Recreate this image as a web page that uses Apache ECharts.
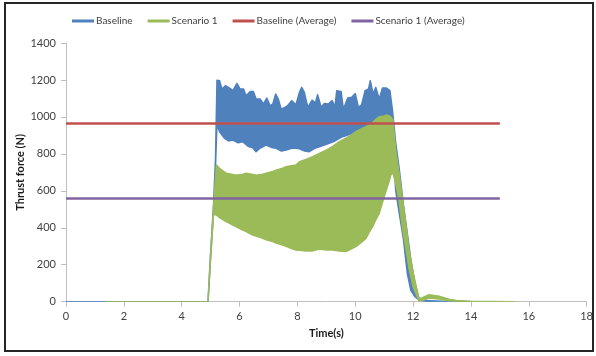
<!DOCTYPE html>
<html>
<head>
<meta charset="utf-8">
<script src="https://cdn.jsdelivr.net/npm/echarts@6/dist/echarts.min.js"></script>
<style>html,body{margin:0;padding:0;background:#fff;}#c{width:596px;height:356px;}</style>
</head>
<body>
<div id="c"></div>
<script>
// ---- data ----
const xTicks = [0, 2, 4, 6, 8, 10, 12, 14, 16, 18];
const yTicks = [0, 200, 400, 600, 800, 1000, 1200, 1400];

// Baseline: upper envelope of the oscillating thrust (time s, force N)
const baseUpT = [0, 4.91, 5.0, 5.1, 5.17, 5.22, 5.31, 5.39, 5.51, 5.66, 5.77, 5.91, 6.02, 6.14, 6.22, 6.37, 6.48, 6.57, 6.71, 6.83, 6.94, 7.06, 7.15, 7.25, 7.34, 7.44, 7.58, 7.69, 7.8, 7.95, 8.07, 8.15, 8.24, 8.36, 8.51, 8.62, 8.7, 8.82, 8.93, 9.07, 9.2, 9.3, 9.36, 9.51, 9.59, 9.74, 9.88, 10.0, 10.11, 10.22, 10.34, 10.46, 10.52, 10.62, 10.71, 10.83, 10.94, 11.08, 11.2, 11.29, 11.4, 11.52, 11.67, 11.8, 11.92, 12.05, 12.2, 12.4, 13.0, 13.93];
const baseUpV = [0, 0, 260, 520, 780, 1199, 1196, 1151, 1169, 1156, 1142, 1181, 1151, 1151, 1115, 1138, 1138, 1097, 1097, 1070, 1102, 1060, 1070, 1124, 1097, 1042, 1052, 1066, 1088, 1066, 1133, 1160, 1133, 1052, 1091, 1075, 1120, 1052, 1073, 1070, 1088, 1054, 1142, 1138, 1042, 1102, 1106, 1127, 1052, 1066, 1142, 1151, 1196, 1124, 1160, 1097, 1156, 1156, 1142, 1033, 860, 720, 520, 370, 230, 110, 20, 6, 3, 0];
// Baseline: lower envelope
const baseLoT = [0, 4.91, 5.0, 5.1, 5.17, 5.22, 5.31, 5.48, 5.62, 5.77, 5.95, 6.11, 6.3, 6.45, 6.57, 6.7, 6.92, 7.1, 7.26, 7.45, 7.61, 7.8, 7.95, 8.07, 8.25, 8.41, 8.6, 8.76, 9.1, 9.3, 9.56, 9.8, 10.0, 10.2, 10.4, 10.6, 10.8, 11.0, 11.2, 11.29, 11.4, 11.52, 11.67, 11.8, 11.92, 12.05, 12.2, 12.4, 13.0, 13.93];
const baseLoV = [0, 0, 240, 490, 740, 960, 920, 884, 870, 875, 860, 866, 840, 835, 812, 830, 848, 835, 830, 815, 821, 830, 830, 828, 815, 812, 830, 839, 857, 870, 893, 905, 920, 935, 950, 965, 975, 980, 960, 900, 600, 480, 334, 154, 63, 30, 9, 3, 0, 0];

// Scenario 1: upper envelope
const scenUpT = [1.4, 4.91, 5.0, 5.1, 5.2, 5.31, 5.54, 5.77, 5.89, 6.11, 6.23, 6.46, 6.57, 6.8, 6.92, 7.15, 7.26, 7.49, 7.61, 7.84, 7.95, 8.07, 8.3, 8.53, 8.76, 9.0, 9.22, 9.45, 9.68, 9.85, 10.02, 10.2, 10.37, 10.48, 10.6, 10.7, 10.83, 11.0, 11.11, 11.17, 11.23, 11.3, 11.4, 11.52, 11.63, 11.75, 11.86, 12.0, 12.2, 12.3, 12.55, 12.9, 13.24, 13.5, 14.0, 15.5];
const scenUpV = [0, 0, 260, 510, 740, 722, 695, 688, 685, 690, 695, 688, 685, 690, 695, 705, 712, 722, 730, 737, 740, 757, 770, 785, 803, 820, 840, 866, 885, 900, 920, 935, 947, 956, 970, 985, 1001, 1005, 1010, 1005, 1000, 985, 821, 690, 560, 420, 280, 160, 15, 20, 38, 30, 14, 6, 2, 0];
// Scenario 1: lower envelope
const scenLoT = [1.4, 4.91, 5.0, 5.1, 5.2, 5.31, 5.54, 5.77, 5.89, 6.11, 6.23, 6.46, 6.57, 6.8, 6.92, 7.15, 7.26, 7.49, 7.61, 7.84, 7.95, 8.07, 8.3, 8.53, 8.76, 9.0, 9.22, 9.45, 9.68, 9.85, 10.02, 10.2, 10.37, 10.48, 10.6, 10.7, 10.83, 11.0, 11.11, 11.17, 11.23, 11.3, 11.4, 11.52, 11.63, 11.75, 11.86, 12.0, 12.2, 12.3, 12.55, 12.9, 13.24, 13.5, 14.0, 15.5];
const scenLoV = [0, 0, 240, 470, 470, 455, 433, 415, 405, 388, 380, 361, 355, 343, 335, 325, 318, 307, 300, 285, 280, 278, 275, 275, 285, 280, 280, 275, 271, 285, 298, 320, 343, 375, 406, 440, 478, 568, 622, 650, 685, 700, 640, 540, 400, 290, 180, 80, 5, 5, 20, 15, 5, 2, 0, 0];

// Averages (N) and the time span they are drawn over (s)
const baseAvg = 965;
const scenAvg = 559;
const avgSpan = [0, 15];

// ---- chart ----
const C_BLUE = '#4F81BD', C_GREEN = '#9BBB59', C_RED = '#C0504D', C_PURPLE = '#8064A2';
const FONT = 'Lato';

function bandSeries(name, UT, UV, LT, LV, color) {
  return {
    type: 'custom',
    name: name,
    silent: true,
    clip: true,
    data: UT.map((t, i) => [t, UV[i]]),
    encode: { x: 0, y: 1 },
    itemStyle: { color: color },
    renderItem: function (params, api) {
      if (params.dataIndex !== 0) return null;
      const pts = [];
      for (let i = 0; i < UT.length; i++) pts.push(api.coord([UT[i], UV[i]]));
      for (let i = LT.length - 1; i >= 0; i--) pts.push(api.coord([LT[i], LV[i]]));
      return {
        type: 'polygon',
        shape: { points: pts },
        style: { fill: color, stroke: color, lineWidth: 1.5, lineJoin: 'round' }
      };
    }
  };
}

function avgSeries(name, v, color) {
  return {
    type: 'line',
    name: name,
    silent: true,
    symbol: 'none',
    data: avgSpan.map(t => [t, v]),
    itemStyle: { color: color },
    lineStyle: { color: color, width: 2.5 }
  };
}

const chart = echarts.init(document.getElementById('c'), null, { renderer: 'canvas' });
chart.setOption({
  animation: false,
  backgroundColor: '#fff',
  textStyle: { fontFamily: FONT },
  graphic: [{
    type: 'rect',
    shape: { x: 5, y: 3, width: 588, height: 348 },
    style: { fill: 'none', stroke: '#262626', lineWidth: 2 },
    silent: true
  }],
  legend: {
    left: 67, top: 11,
    itemWidth: 22, itemHeight: 3, itemGap: 15,
    icon: 'rect',
    textStyle: { fontFamily: FONT, fontSize: 10, color: '#404040', padding: [0, 0, 0, -3] },
    data: ['Baseline', 'Scenario 1', 'Baseline (Average)', 'Scenario 1 (Average)']
  },
  grid: { left: 66, right: 8, top: 43, bottom: 54.3, containLabel: false },
  xAxis: {
    type: 'value', min: xTicks[0], max: xTicks[xTicks.length - 1], interval: 2,
    name: 'Time(s)', nameLocation: 'middle', nameGap: 26, nameMoveOverlap: false,
    nameTextStyle: { fontFamily: FONT, fontSize: 11, fontWeight: 'bold', color: '#1a1a1a' },
    axisLine: { lineStyle: { color: '#BFBFBF', width: 1 } },
    axisTick: { show: true, length: 5, lineStyle: { color: '#BFBFBF' } },
    axisLabel: { fontFamily: FONT, fontSize: 11, color: '#404040', margin: 9 },
    splitLine: { show: false }
  },
  yAxis: {
    type: 'value', min: yTicks[0], max: yTicks[yTicks.length - 1], interval: 200,
    name: 'Thrust force (N)', nameLocation: 'middle', nameGap: 40, nameRotate: 90, nameMoveOverlap: false,
    nameTextStyle: { fontFamily: FONT, fontSize: 11, fontWeight: 'bold', color: '#1a1a1a' },
    axisLine: { show: true, lineStyle: { color: '#BFBFBF', width: 1 } },
    axisTick: { show: true, length: 5, lineStyle: { color: '#BFBFBF' } },
    axisLabel: { fontFamily: FONT, fontSize: 11, color: '#404040', margin: 10, formatter: v => String(v) },
    splitLine: { show: false }
  },
  series: [
    bandSeries('Baseline', baseUpT, baseUpV, baseLoT, baseLoV, C_BLUE),
    bandSeries('Scenario 1', scenUpT, scenUpV, scenLoT, scenLoV, C_GREEN),
    avgSeries('Baseline (Average)', baseAvg, C_RED),
    avgSeries('Scenario 1 (Average)', scenAvg, C_PURPLE)
  ]
});
</script>
</body>
</html>
